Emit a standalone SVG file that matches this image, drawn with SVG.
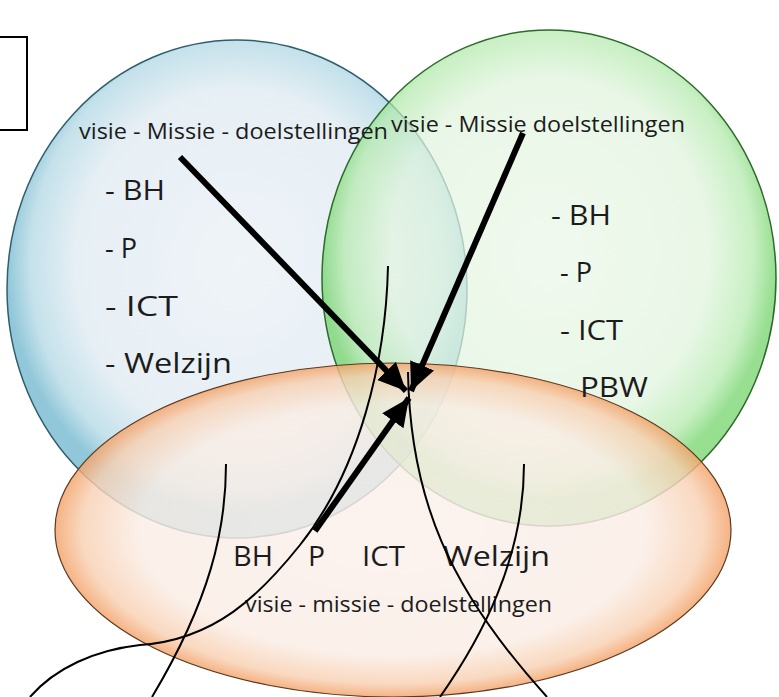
<svg xmlns="http://www.w3.org/2000/svg" width="779" height="697" viewBox="0 0 779 697">
<style>
.t{font-family:"Open Sans","Liberation Sans",sans-serif;fill:#1c1c1c}
.big{font-size:27px}
.sm{font-size:21px}
.arr{stroke:#000;stroke-width:6;fill:none}
.crv{stroke:#000;stroke-width:2;fill:none}
</style>
<defs>
<radialGradient id="gB" cx="50%" cy="45%" r="50%">
<stop offset="0" stop-color="#edf2f7"/>
<stop offset="0.7" stop-color="#e3edf3"/>
<stop offset="0.9" stop-color="#bcdde8"/>
<stop offset="1" stop-color="#82c0d4"/>
</radialGradient>
<radialGradient id="gG" cx="50%" cy="45%" r="50%">
<stop offset="0" stop-color="#eaf7e8"/>
<stop offset="0.7" stop-color="#e1f4de"/>
<stop offset="0.9" stop-color="#b3e9ac"/>
<stop offset="1" stop-color="#6fd266"/>
</radialGradient>
<radialGradient id="gO" cx="50%" cy="50%" r="50%">
<stop offset="0" stop-color="#fbf0ec"/>
<stop offset="0.75" stop-color="#faede5"/>
<stop offset="0.92" stop-color="#f8d0b2"/>
<stop offset="1" stop-color="#f3a268"/>
</radialGradient>
<marker id="ah" markerUnits="userSpaceOnUse" markerWidth="30" markerHeight="28" refX="28" refY="13" orient="auto">
<path d="M0,0 L28,13 L0,26 Z" fill="#000"/>
</marker>
</defs>
<rect width="779" height="697" fill="#fff"/>
<rect id="box" x="-5" y="37" width="32" height="93" fill="#fff" stroke="#000" stroke-width="2"/>
<g id="circleBlue">
<ellipse cx="237" cy="289" rx="230" ry="249" fill="url(#gB)" fill-opacity="0.88" stroke="#2f5f6f" stroke-width="1.5"/>
</g>
<g id="circleGreen">
<ellipse cx="549" cy="278" rx="227" ry="248" fill="url(#gG)" fill-opacity="0.72" stroke="#2d6a2d" stroke-width="1.5"/>
</g>
<g id="ellipseOrange">
<ellipse cx="393" cy="530" rx="338" ry="167" fill="url(#gO)" fill-opacity="0.82" stroke="#5a3a22" stroke-width="1.2"/>
</g>
<g id="textBlue">
<text class="t sm" x="79" y="139" textLength="309" lengthAdjust="spacingAndGlyphs">visie - Missie - doelstellingen</text>
<text class="t big" x="105" y="200" textLength="60" lengthAdjust="spacingAndGlyphs">- BH</text>
<text class="t big" x="105" y="258" textLength="32" lengthAdjust="spacingAndGlyphs">- P</text>
<text class="t big" x="105" y="316" textLength="73" lengthAdjust="spacingAndGlyphs">- ICT</text>
<text class="t big" x="105" y="373" textLength="127" lengthAdjust="spacingAndGlyphs">- Welzijn</text>
</g>
<g id="textGreen">
<text class="t sm" x="391" y="132" textLength="294" lengthAdjust="spacingAndGlyphs">visie - Missie doelstellingen</text>
<text class="t big" x="551" y="225" textLength="60" lengthAdjust="spacingAndGlyphs">- BH</text>
<text class="t big" x="560" y="282" textLength="32" lengthAdjust="spacingAndGlyphs">- P</text>
<text class="t big" x="560" y="340" textLength="63" lengthAdjust="spacingAndGlyphs">- ICT</text>
<text class="t big" x="580" y="397" textLength="68" lengthAdjust="spacingAndGlyphs">PBW</text>
</g>
<g id="textOrange">
<text class="t big" x="233" y="566" textLength="40" lengthAdjust="spacingAndGlyphs">BH</text>
<text class="t big" x="308" y="566" textLength="17" lengthAdjust="spacingAndGlyphs">P</text>
<text class="t big" x="362" y="566" textLength="43" lengthAdjust="spacingAndGlyphs">ICT</text>
<text class="t big" x="443" y="566" textLength="107" lengthAdjust="spacingAndGlyphs">Welzijn</text>
<text class="t sm" x="245" y="612" textLength="307" lengthAdjust="spacingAndGlyphs">visie - missie - doelstellingen</text>
</g>
<g id="connectors">
<line class="arr" x1="180" y1="157" x2="406" y2="391" marker-end="url(#ah)"/>
<line class="arr" x1="523" y1="133" x2="411" y2="391" marker-end="url(#ah)"/>
<line class="arr" x1="315" y1="531" x2="409" y2="398" marker-end="url(#ah)"/>
<path class="crv" d="M388,266 C386,360 360,470 300,545 C260,595 215,640 140,645 C95,650 55,668 30,697"/>
<path class="crv" d="M226,464 C226,530 210,600 152,697"/>
<path class="crv" d="M408,372 C410,500 450,590 547,697"/>
<path class="crv" d="M524,464 C524,560 480,640 440,697"/>
</g>
</svg>
